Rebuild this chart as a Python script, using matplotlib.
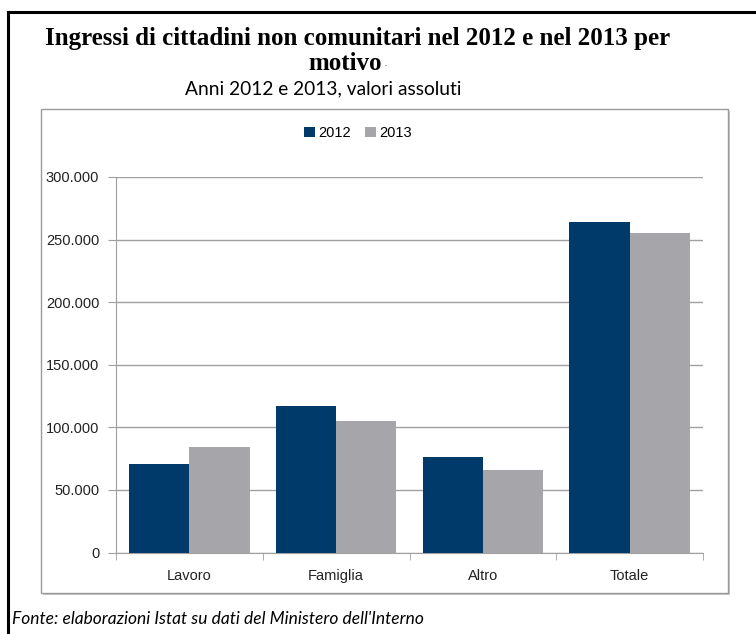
import matplotlib.pyplot as plt
import numpy as np
from matplotlib.patches import Rectangle
from matplotlib.lines import Line2D
from matplotlib.ticker import FuncFormatter

categorie = ["Lavoro", "Famiglia", "Altro", "Totale"]
anni = ["2012", "2013"]
ingressi_2012 = [70892, 116891, 76185, 263968]
ingressi_2013 = [84540, 105266, 65840, 255646]

W, H = 756, 634
fig = plt.figure(figsize=(W / 100, H / 100), dpi=100)

def fx(px):
    return px / W

def fy(py):
    return 1 - py / H

# outer black frame (left and top only)
fig.add_artist(Line2D([fx(8), fx(8)], [fy(12), 0], color="black", lw=2.2,
                      transform=fig.transFigure))
fig.add_artist(Line2D([fx(8), 1], [fy(12), fy(12)], color="black", lw=2.2,
                      transform=fig.transFigure))

# chart box with small shadow
fig.add_artist(Rectangle((fx(43), fy(595)), fx(728 - 41), fy(109) - fy(593),
                         transform=fig.transFigure, facecolor="#c8c8c8",
                         edgecolor="none", zorder=0))
fig.add_artist(Rectangle((fx(41), fy(593)), fx(728 - 41), fy(109) - fy(593),
                         transform=fig.transFigure, facecolor="white",
                         edgecolor="#9a9a9a", lw=1, zorder=0.5))

# titles
fig.text(fx(45), fy(38), "Ingressi di cittadini non comunitari nel 2012 e nel 2013 per",
         family="Liberation Serif", weight="bold", fontsize=18, va="center", ha="left")
fig.text(fx(345), fy(64), "motivo", family="Liberation Serif", weight="bold",
         fontsize=18, va="center", ha="center")
fig.text(fx(386), fy(67), "·", color="#888888", fontsize=9, va="center", ha="center")
fig.text(fx(323), fy(89), "Anni 2012 e 2013, valori assoluti", family="Lato",
         fontsize=13.8, va="center", ha="center")
fig.text(fx(12), fy(619), "Fonte: elaborazioni Istat su dati del Ministero dell'Interno",
         family="Lato", style="italic", fontsize=12.5, va="center", ha="left")

ax = fig.add_axes([fx(116), fy(552.5), fx(703 - 116), fy(177) - fy(552.5)])
ax.set_zorder(2)
ax.patch.set_alpha(0)

x = np.arange(len(categorie))
w = 0.41
b1 = ax.bar(x - w / 2, ingressi_2012, w, color="#003a6b", label=anni[0], zorder=3)
b2 = ax.bar(x + w / 2, ingressi_2013, w, color="#a6a5aa", label=anni[1], zorder=3)

ax.set_xlim(-0.5, len(categorie) - 0.5)
ax.set_ylim(0, 300000)
ax.set_yticks(np.arange(0, 300001, 50000))
ax.yaxis.set_major_formatter(FuncFormatter(
    lambda v, p: "0" if v == 0 else f"{int(v):,}".replace(",", ".")))
ax.grid(axis="y", color="#a0a0a0", lw=1, zorder=1)

ax.set_xticks(x)
ax.set_xticklabels(categorie)
ax.set_xticks(np.arange(-0.5, len(categorie)), minor=True)
ax.tick_params(axis="x", which="major", length=0, pad=12)
ax.tick_params(axis="x", which="minor", length=5, color="#a0a0a0")
ax.tick_params(axis="y", length=6, color="#a0a0a0", pad=6)
for lab in ax.get_xticklabels() + ax.get_yticklabels():
    lab.set_family("Liberation Sans")
    lab.set_fontsize(10.5)
    lab.set_color("#222222")

for s in ["top", "right"]:
    ax.spines[s].set_visible(False)
ax.spines["left"].set_color("#a0a0a0")
ax.spines["bottom"].set_color("#a0a0a0")

leg = fig.legend(handles=[b1, b2], loc="center", bbox_to_anchor=(fx(358), fy(133)),
                 ncol=2, frameon=False, handlelength=0.75, handleheight=0.75,
                 handletextpad=0.2, columnspacing=1.0,
                 prop={"family": "Liberation Sans", "size": 10.5})

fig.savefig("out.png", dpi=100)
